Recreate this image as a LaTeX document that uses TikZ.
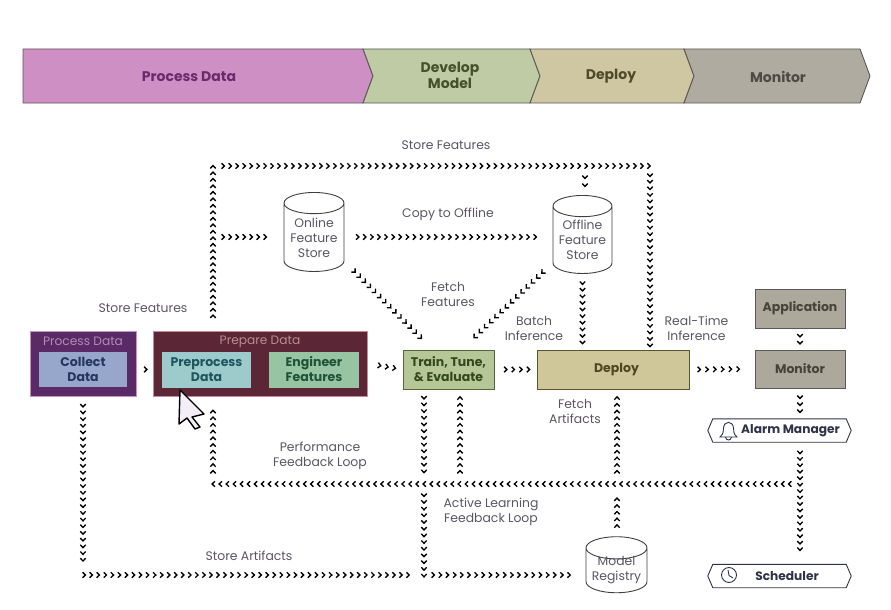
\documentclass[tikz,border=0pt]{standalone}
\usepackage{fontspec}
\setmainfont{Poppins}
\usetikzlibrary{calc,decorations.markings,shapes.geometric}

\definecolor{chevpurple}{HTML}{3A2A4E}
\definecolor{chevgreen}{HTML}{3C4233}
\definecolor{chevnavy}{HTML}{2F3347}
\definecolor{labelgrey}{HTML}{5A5560}

\tikzset{
	chevrons/.style n args={3}{decorate, decoration={markings,
		mark=between positions #1pt and -#2pt step #3pt with
		{\draw[line width=1.35pt, miter limit=4] (-1.4, 2.7) -- (1.4, 0) -- (-1.4, -2.7);}}},
	label/.style={text=labelgrey, align=center, font=\fontsize{12.4}{15}\selectfont},
	phase/.style={line width=0.9pt, draw=#1},
	phasetext/.style={align=center, font=\fontsize{14}{16}\selectfont\bfseries},
	box/.style={draw, line width=1pt, inner sep=0pt, align=center, font=\fontsize{12.5}{15}\selectfont\bfseries},
	store/.style={draw=black!75, fill=white, line width=0.9pt, cylinder, shape border rotate=90, aspect=0.45, inner sep=0pt, align=center, text=labelgrey, font=\fontsize{12.4}{15}\selectfont},
	tag/.style={inner sep=0pt, minimum width=143pt, minimum height=23pt, text=chevnavy, font=\fontsize{12.2}{14}\selectfont\bfseries}
}
\def\tagoutline#1{\draw[line width=0.9pt, color=chevnavy] (#1.west) -- ($(#1.north west)+(5, 0)$) -- ($(#1.north east)+(-5, 0)$) -- (#1.east) -- ($(#1.south east)+(-5, 0)$) -- ($(#1.south west)+(5, 0)$) -- cycle;}

\begin{document}
\begin{tikzpicture}[x=1pt, y=-1pt]
	\useasboundingbox (0, 0) rectangle (891, 610);
	
	% phases
	\draw[phase=black!65, fill={rgb,255:red,206;green,143;blue,196}] (23, 49) -- (363, 49) -- (373, 76) -- (363, 103) -- (23, 103) -- cycle;
	\draw[phase=black!65, fill={rgb,255:red,191;green,203;blue,164}] (363, 49) -- (530, 49) -- (540, 76) -- (530, 103) -- (363, 103) -- (373, 76) -- cycle;
	\draw[phase=black!65, fill={rgb,255:red,207;green,199;blue,161}] (530, 49) -- (684, 49) -- (694, 76) -- (684, 103) -- (530, 103) -- (540, 76) -- cycle;
	\draw[phase=black!65, fill={rgb,255:red,176;green,171;blue,160}] (684, 49) -- (860, 49) -- (870, 76) -- (860, 103) -- (684, 103) -- (694, 76) -- cycle;
	\node[phasetext, text={rgb,255:red,106;green,42;blue,108}] (phaseproc) at (189, 76.5) {Process Data};
	\node[phasetext, text={rgb,255:red,70;green,80;blue,42}] (phasedev) at (450, 75.5) {Develop\\Model};
	\node[phasetext, text={rgb,255:red,80;green,73;blue,42}] (phasedep) at (611, 76.5) {Deploy};
	\node[phasetext, text={rgb,255:red,78;green,74;blue,66}] (phasemon) at (778, 77) {Monitor};
	
	% data boxes
	\node[box, draw={rgb,255:red,200;green,143;blue,192}, fill={rgb,255:red,90;green,42;blue,102}, minimum width=106pt, minimum height=65pt] (process) at (83, 363.5) {};
	\node[box, draw={rgb,255:red,200;green,138;blue,154}, fill={rgb,255:red,91;green,38;blue,54}, minimum width=214pt, minimum height=65pt] (prepare) at (260, 363.5) {};
	\node[text={rgb,255:red,180;green,138;blue,184}, font=\fontsize{12.2}{14}\selectfont] (processtitle) at (83, 341.5) {Process Data};
	\node[text={rgb,255:red,184;green,140;blue,150}, font=\fontsize{12.2}{14}\selectfont] (preparetitle) at (260, 341.5) {Prepare Data};
	\node[box, draw=none, fill={rgb,255:red,151;green,167;blue,204}, text={rgb,255:red,36;green,55;blue,95}, minimum width=88pt, minimum height=35pt] (collect) at (83, 369.5) {Collect\\Data};
	\node[box, draw=none, fill={rgb,255:red,157;green,203;blue,203}, text={rgb,255:red,31;green,85;blue,96}, minimum width=89pt, minimum height=36pt] (preproc) at (206.5, 369.5) {Preprocess\\Data};
	\node[box, draw=none, fill={rgb,255:red,151;green,197;blue,163}, text={rgb,255:red,31;green,82;blue,56}, minimum width=90pt, minimum height=36pt] (engineer) at (314, 369.5) {Engineer\\Features};
	
	% workflow boxes
	\node[box, draw={rgb,255:red,85;green,100;blue,58}, fill={rgb,255:red,181;green,199;blue,150}, text={rgb,255:red,51;green,72;blue,30}, minimum width=91pt, minimum height=39pt] (train) at (448.5, 369.5) {Train, Tune,\\\& Evaluate};
	\node[box, draw={rgb,255:red,92;green,84;blue,48}, fill={rgb,255:red,207;green,198;blue,154}, text={rgb,255:red,78;green,70;blue,32}, minimum width=152pt, minimum height=39pt] (deploy) at (613, 369.5) {\hspace*{7pt}Deploy};
	\node[box, draw=black!65, fill={rgb,255:red,173;green,168;blue,156}, text={rgb,255:red,71;green,67;blue,58}, minimum width=90pt, minimum height=38pt] (monitor) at (800, 369) {Monitor};
	\node[box, draw=black!65, fill={rgb,255:red,173;green,168;blue,156}, text={rgb,255:red,71;green,67;blue,58}, minimum width=90pt, minimum height=39pt] (application) at (800, 308.5) {Application};
	
	% stores
	\node[store, minimum width=60pt, minimum height=79pt] (online) at (314, 237.5) {Online\\Feature\\Store};
	\node[store, minimum width=59pt, minimum height=78pt] (offline) at (582.5, 240) {Offline\\Feature\\Store};
	\node[store, inner ysep=-6pt, minimum width=61pt, minimum height=56pt] (model) at (616.5, 570.5) {Model\\Registry};
	
	% tags
	\node[tag] (alarm) at (779.5, 430.5) {\hspace*{22pt}Alarm Manager};
	\tagoutline{alarm}
	\node[tag] (scheduler) at (779.5, 576) {\hspace*{15pt}Scheduler};
	\tagoutline{scheduler}
	\draw[line width=0.9pt, color=chevnavy] (720, 437) .. controls (724, 433.5) and (723, 431) .. (723.5, 428) .. controls (724, 420.5) and (733, 420.5) .. (733.5, 428) .. controls (734, 431) and (733, 433.5) .. (737, 437) -- cycle;
	\draw[line width=0.9pt, color=chevnavy] (725.5, 437) .. controls (726, 441) and (731, 441) .. (731.5, 437);
	\draw[line width=0.9pt, color=chevnavy] (729, 575) circle (7.5);
	\draw[line width=0.9pt, color=chevnavy] (728, 570) -- (729, 575.5) -- (733, 578);
	
	% corners
	\coordinate (storecorner) at (213, 166);
	\coordinate (storeend) at (650, 166);
	\coordinate (storeoffline) at (585, 166);
	\coordinate (storeonline) at (213, 237);
	\coordinate (fbstart) at (800, 484);
	\coordinate (fbend) at (213, 484);
	\coordinate (activein) at (424, 484);
	\coordinate (activeend) at (424, 577);
	\coordinate (artcorner) at (83, 575);
	\coordinate (trainup) at (460, 484);
	\coordinate (artup) at (617, 484);
	\coordinate (fetchon) at (345, 262);
	\coordinate (fetchonend) at (433, 350);
	\coordinate (fetchoff) at (553, 262.5);
	\coordinate (fetchoffend) at (462, 349);
	\coordinate (rowleft) at (145, 369.5);
	
	% connectors
	\draw[color=chevpurple, chevrons={14}{0.1}{6.5}] (prepare.north -| storecorner) -- (storecorner);
	\draw[color=chevpurple, chevrons={10}{0.1}{6.98}] (storecorner) -- (storeend);
	\draw[color=chevpurple, chevrons={11}{9}{8}] (storeoffline) -- (storeoffline |- offline.north);
	\draw[color=chevpurple, chevrons={9}{4}{6.55}] (storeend) -- (storeend |- deploy.north);
	\draw[color=chevnavy, chevrons={9}{4}{6.6}] (offline.south) -- (offline.south |- deploy.north);
	\draw[color=chevpurple, chevrons={10}{13}{7}] (storeonline) -- (storeonline -| online.west);
	\draw[color=chevpurple, chevrons={13}{11}{7.1}] (storeonline -| online.east) -- (storeonline -| offline.west);
	\draw[color=chevnavy, chevrons={13}{14}{7.2}] (fetchon) -- (fetchonend);
	\draw[color=chevnavy, chevrons={14}{13}{7.2}] (fetchoff) -- (fetchoffend);
	\draw[color=chevpurple, chevrons={9}{3}{7}] (process.east |- rowleft) -- (prepare.west |- rowleft);
	\draw[color={rgb,255:red,208;green,143;blue,160}, chevrons={9}{9}{7}] (preproc.east) -- (engineer.west);
	\draw[color=chevnavy, chevrons={12}{8}{7.5}] (prepare.east) -- (train.west);
	\draw[color=chevnavy, chevrons={11}{8}{7.6}] (train.east) -- (deploy.west);
	\draw[color=chevnavy, chevrons={9.5}{9}{7.8}] (deploy.east) -- (monitor.west);
	\draw[color=chevnavy, chevrons={7}{5}{7}] (application.south) -- (monitor.north);
	\draw[color=chevnavy, chevrons={8.5}{7}{7}] (monitor.south) -- (monitor.south |- alarm.north);
	\draw[color=chevnavy, chevrons={10}{10}{6.45}] (monitor.south |- alarm.south) -- (monitor.south |- scheduler.north);
	\draw[color=chevnavy, chevrons={10}{0.1}{7.03}] (fbstart) -- (fbend);
	\draw[color=chevnavy, chevrons={12}{9}{6.7}] (fbend) -- (fbend |- prepare.south);
	\draw[color=chevgreen, chevrons={8}{12}{6.7}] (activein |- train.south) -- (activein);
	\draw[color=chevgreen, chevrons={11}{0.1}{6.7}] (activein) -- (activeend);
	\draw[color=chevnavy, chevrons={12}{8}{6.7}] (trainup) -- (trainup |- train.south);
	\draw[color=chevnavy, chevrons={12}{8}{6.7}] (artup) -- (artup |- deploy.south);
	\draw[color=chevnavy, chevrons={10}{12}{6.7}] (artup |- model.north) -- (artup);
	\draw[color=chevpurple, chevrons={9}{9}{6.7}] (process.south) -- (artcorner);
	\draw[color=chevpurple, chevrons={1}{11}{7.04}] (artcorner) -- (artcorner -| activein);
	\draw[color=chevgreen, chevrons={9}{13}{7.15}] (artcorner -| activein) -- (artcorner -| model.west);
	
	% labels
	\node[label] (lstoretop) at (446, 145.5) {Store Features};
	\node[label] (lstoreleft) at (143, 308.5) {Store Features};
	\node[label] (lcopy) at (448, 214.5) {Copy to Offline};
	\node[label] (lfetch) at (448, 294) {Fetch\\Features};
	\node[label] (lbatch) at (534, 328) {Batch\\Inference};
	\node[label] (lreal) at (696.5, 328) {Real-Time\\Inference};
	\node[label] (lartifacts) at (575, 411) {Fetch\\Artifacts};
	\node[label] (lperf) at (320, 456) {Performance\\Feedback Loop};
	\node[label] (lactive) at (491, 511.5) {Active Learning\\Feedback Loop};
	\node[label] (lstoreart) at (249, 555.5) {Store Artifacts};
	
	% cursor
	\draw[line width=1.4pt, fill={rgb,255:red,243;green,238;blue,248}, line join=round] (180, 390) -- (204, 414) -- (192, 417) -- (200, 427) -- (195, 429) -- (187, 418) -- (179, 424) -- cycle;
\end{tikzpicture}
\end{document}
